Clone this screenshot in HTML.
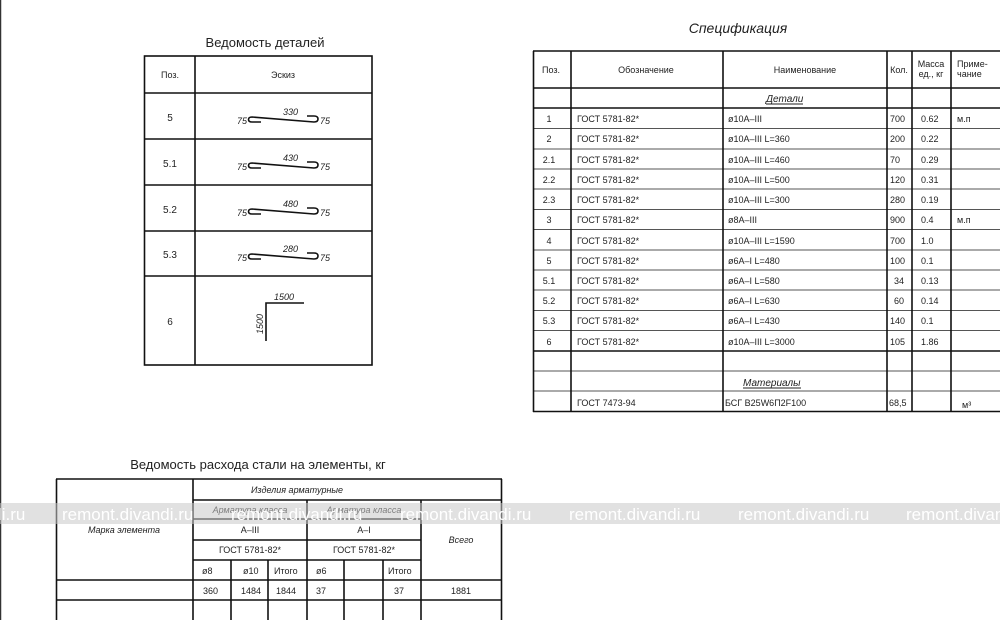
<!DOCTYPE html>
<html><head><meta charset="utf-8"><style>
html,body{margin:0;padding:0;background:#fff;width:1000px;height:620px;overflow:hidden}
svg{display:block}
text{font-family:"Liberation Sans","DejaVu Sans",sans-serif;fill:#222}
.s{font-size:9px}
.m{font-size:10px}
.t{font-size:13px;font-style:italic}
.it{font-style:italic}
.k{stroke:#111;stroke-width:1.6;fill:none}
.g{stroke:#555;stroke-width:1;fill:none}
.wm text{font-size:17px;fill:#fff}
</style></head><body>
<svg width="1000" height="620" viewBox="0 0 1000 620" xmlns="http://www.w3.org/2000/svg">
<line x1="0.5" y1="0" x2="0.5" y2="620" stroke="#333" stroke-width="1.5"/>

<!-- Ведомость деталей -->
<text x="265" y="47" class="t" text-anchor="middle" style="font-style:normal">Ведомость деталей</text>
<rect x="144.5" y="56" width="227.5" height="309" class="k"/>
<line x1="195" y1="56" x2="195" y2="365" class="k"/>
<g class="k">
<line x1="144" y1="93" x2="372" y2="93"/>
<line x1="144" y1="139" x2="372" y2="139"/>
<line x1="144" y1="185" x2="372" y2="185"/>
<line x1="144" y1="231" x2="372" y2="231"/>
<line x1="144" y1="276" x2="372" y2="276"/>
</g>
<text x="170" y="78" class="s" text-anchor="middle">Поз.</text>
<text x="283" y="78" class="s" text-anchor="middle">Эскиз</text>
<g class="m" text-anchor="middle">
<text x="170" y="121">5</text>
<text x="170" y="167">5.1</text>
<text x="170" y="213">5.2</text>
<text x="170" y="258">5.3</text>
<text x="170" y="325">6</text>
</g>
<g id="z">
<path d="M261,122 H252 Q248.5,122 248.5,119.5 Q248.5,117 252,117 L314,122 Q318,122 318,119 Q318,116 314,116 H307" stroke="#111" stroke-width="1.6" fill="none"/>
</g>
<use href="#z" y="46"/><use href="#z" y="92"/><use href="#z" y="137"/>
<g class="s it">
<text x="237" y="124">75</text><text x="320" y="124">75</text><text x="283" y="115">330</text>
<text x="237" y="170">75</text><text x="320" y="170">75</text><text x="283" y="161">430</text>
<text x="237" y="216">75</text><text x="320" y="216">75</text><text x="283" y="207">480</text>
<text x="237" y="261">75</text><text x="320" y="261">75</text><text x="283" y="252">280</text>
<text x="274" y="300">1500</text>
<text transform="translate(263,334) rotate(-90)">1500</text>
</g>
<path d="M266,341 V303 H304" stroke="#111" stroke-width="1.6" fill="none"/>

<!-- Спецификация -->
<text x="738" y="33" class="t" text-anchor="middle" style="font-size:14px">Спецификация</text>
<g class="g">
<line x1="533" y1="128.5" x2="1000" y2="128.5"/>
<line x1="533" y1="149" x2="1000" y2="149"/>
<line x1="533" y1="169" x2="1000" y2="169"/>
<line x1="533" y1="189" x2="1000" y2="189"/>
<line x1="533" y1="209.5" x2="1000" y2="209.5"/>
<line x1="533" y1="229.5" x2="1000" y2="229.5"/>
<line x1="533" y1="250" x2="1000" y2="250"/>
<line x1="533" y1="270" x2="1000" y2="270"/>
<line x1="533" y1="290" x2="1000" y2="290"/>
<line x1="533" y1="310.5" x2="1000" y2="310.5"/>
<line x1="533" y1="330.5" x2="1000" y2="330.5"/>
<line x1="533" y1="371" x2="1000" y2="371"/>
<line x1="533" y1="391" x2="1000" y2="391"/>
</g>
<g class="k">
<line x1="533" y1="51" x2="1000" y2="51"/>
<line x1="533" y1="88" x2="1000" y2="88"/>
<line x1="533" y1="108" x2="1000" y2="108"/>
<line x1="533" y1="351" x2="1000" y2="351"/>
<line x1="533" y1="411.5" x2="1000" y2="411.5"/>
<line x1="533.5" y1="51" x2="533.5" y2="412"/>
<line x1="571" y1="51" x2="571" y2="412"/>
<line x1="723" y1="51" x2="723" y2="412"/>
<line x1="887" y1="51" x2="887" y2="412"/>
<line x1="912" y1="51" x2="912" y2="412"/>
<line x1="951" y1="51" x2="951" y2="412"/>
</g>
<g class="s">
<text x="551" y="73" text-anchor="middle">Поз.</text>
<text x="646" y="73" text-anchor="middle">Обозначение</text>
<text x="805" y="73" text-anchor="middle">Наименование</text>
<text x="899" y="73" text-anchor="middle">Кол.</text>
<text x="931" y="67" text-anchor="middle">Масса</text>
<text x="931" y="77" text-anchor="middle">ед., кг</text>
<text x="957" y="67">Приме-</text>
<text x="957" y="77">чание</text>
</g>
<text x="766" y="102" class="m it">Детали</text>
<line x1="766" y1="104" x2="803" y2="104" stroke="#222"/>
<text x="743" y="386" class="m it">Материалы</text>
<line x1="743" y1="388" x2="801" y2="388" stroke="#222"/>
<g class="s">
<g text-anchor="middle">
<text x="549" y="122">1</text><text x="549" y="142">2</text><text x="549" y="163">2.1</text><text x="549" y="183">2.2</text><text x="549" y="203">2.3</text><text x="549" y="223">3</text><text x="549" y="244">4</text><text x="549" y="264">5</text><text x="549" y="284">5.1</text><text x="549" y="304">5.2</text><text x="549" y="324">5.3</text><text x="549" y="345">6</text>
</g>
<g>
<text x="577" y="122">ГОСТ 5781-82*</text><text x="577" y="142">ГОСТ 5781-82*</text><text x="577" y="163">ГОСТ 5781-82*</text><text x="577" y="183">ГОСТ 5781-82*</text><text x="577" y="203">ГОСТ 5781-82*</text><text x="577" y="223">ГОСТ 5781-82*</text><text x="577" y="244">ГОСТ 5781-82*</text><text x="577" y="264">ГОСТ 5781-82*</text><text x="577" y="284">ГОСТ 5781-82*</text><text x="577" y="304">ГОСТ 5781-82*</text><text x="577" y="324">ГОСТ 5781-82*</text><text x="577" y="345">ГОСТ 5781-82*</text>
<text x="577" y="406">ГОСТ 7473-94</text>
<text x="728" y="122">ø10A–III</text><text x="728" y="142">ø10A–III L=360</text><text x="728" y="163">ø10A–III L=460</text><text x="728" y="183">ø10A–III L=500</text><text x="728" y="203">ø10A–III L=300</text><text x="728" y="223">ø8A–III</text><text x="728" y="244">ø10A–III L=1590</text><text x="728" y="264">ø6A–I  L=480</text><text x="728" y="284">ø6A–I  L=580</text><text x="728" y="304">ø6A–I  L=630</text><text x="728" y="324">ø6A–I  L=430</text><text x="728" y="345">ø10A–III L=3000</text>
<text x="725" y="406">БСГ B25W6П2F100</text>
<text x="890" y="122">700</text><text x="890" y="142">200</text><text x="890" y="163">70</text><text x="890" y="183">120</text><text x="890" y="203">280</text><text x="890" y="223">900</text><text x="890" y="244">700</text><text x="890" y="264">100</text><text x="894" y="284">34</text><text x="894" y="304">60</text><text x="890" y="324">140</text><text x="890" y="345">105</text><text x="889" y="406">68,5</text>
<text x="921" y="122">0.62</text><text x="921" y="142">0.22</text><text x="921" y="163">0.29</text><text x="921" y="183">0.31</text><text x="921" y="203">0.19</text><text x="921" y="223">0.4</text><text x="921" y="244">1.0</text><text x="921" y="264">0.1</text><text x="921" y="284">0.13</text><text x="921" y="304">0.14</text><text x="921" y="324">0.1</text><text x="921" y="345">1.86</text>
<text x="957" y="122">м.п</text><text x="957" y="223">м.п</text><text x="962" y="408">м³</text>
</g>
</g>

<!-- Ведомость расхода стали -->
<text x="258" y="469" class="t" style="font-style:normal" text-anchor="middle">Ведомость расхода стали на элементы, кг</text>
<g class="k">
<line x1="56" y1="479" x2="502" y2="479"/>
<line x1="193" y1="500" x2="502" y2="500"/>
<line x1="193" y1="519" x2="421" y2="519"/>
<line x1="193" y1="540" x2="421" y2="540"/>
<line x1="193" y1="560" x2="421" y2="560"/>
<line x1="56" y1="580" x2="502" y2="580"/>
<line x1="56" y1="600" x2="502" y2="600"/>
<line x1="56.5" y1="479" x2="56.5" y2="620"/>
<line x1="501.5" y1="479" x2="501.5" y2="620"/>
<line x1="193" y1="479" x2="193" y2="620"/>
<line x1="307" y1="500" x2="307" y2="620"/>
<line x1="421" y1="500" x2="421" y2="620"/>
<line x1="231" y1="560" x2="231" y2="620"/>
<line x1="268" y1="560" x2="268" y2="620"/>
<line x1="344" y1="560" x2="344" y2="620"/>
<line x1="383" y1="560" x2="383" y2="620"/>
</g>
<g class="s it">
<text x="297" y="493" text-anchor="middle">Изделия арматурные</text>
<text x="250" y="513" text-anchor="middle">Арматура класса</text>
<text x="364" y="513" text-anchor="middle">Арматура класса</text>
<text x="124" y="533" text-anchor="middle">Марка элемента</text>
<text x="461" y="543" text-anchor="middle">Всего</text>
</g>
<g class="s">
<text x="250" y="533" text-anchor="middle">А–III</text>
<text x="364" y="533" text-anchor="middle">А–I</text>
<text x="250" y="553" text-anchor="middle">ГОСТ 5781-82*</text>
<text x="364" y="553" text-anchor="middle">ГОСТ 5781-82*</text>
<text x="202" y="574">ø8</text><text x="243" y="574">ø10</text><text x="274" y="574">Итого</text><text x="316" y="574">ø6</text><text x="388" y="574">Итого</text>
<text x="203" y="594">360</text><text x="241" y="594">1484</text><text x="276" y="594">1844</text><text x="316" y="594">37</text><text x="394" y="594">37</text><text x="461" y="594" text-anchor="middle">1881</text>
</g>

<!-- watermark -->
<rect x="0" y="503" width="1000" height="21" fill="#c8c8c8" fill-opacity="0.55"/>
<g class="wm">
<text x="-106" y="520">remont.divandi.ru</text>
<text x="62" y="520">remont.divandi.ru</text>
<text x="231" y="520">remont.divandi.ru</text>
<text x="400" y="520">remont.divandi.ru</text>
<text x="569" y="520">remont.divandi.ru</text>
<text x="738" y="520">remont.divandi.ru</text>
<text x="906" y="520">remont.divandi.ru</text>
</g>
</svg>
</body></html>
